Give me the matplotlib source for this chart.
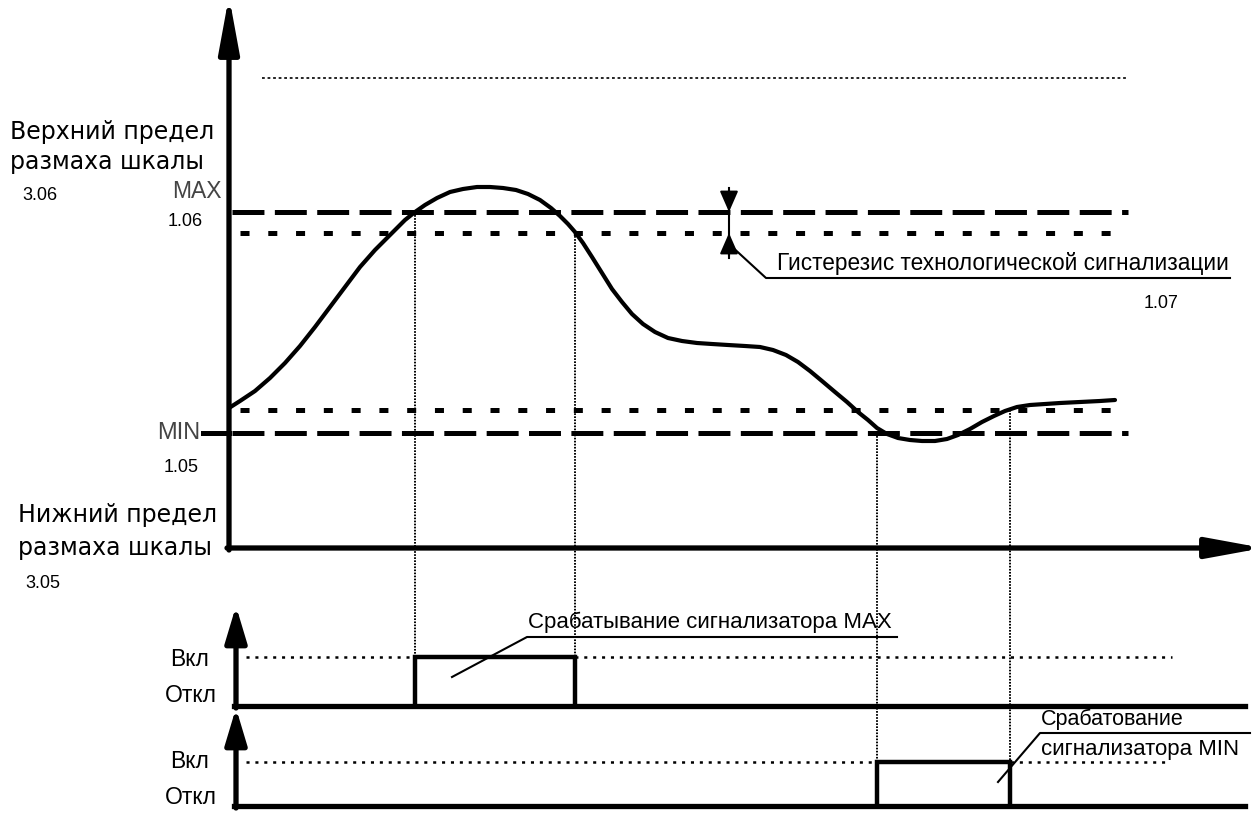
import matplotlib
matplotlib.use("Agg")
import matplotlib.pyplot as plt

plt.rcParams['lines.scale_dashes'] = False
plt.rcParams['font.family'] = ['Liberation Sans', 'DejaVu Sans']

# ---- data (diagram units: x = time, y = screen-like level, top = 0) ----
curve_x = [229, 240, 255, 270, 285, 300, 315, 330, 345, 360, 375, 390, 405, 415, 425,
           437, 450, 463, 477, 490, 503, 516, 528, 540, 551, 560, 568, 575, 583, 592,
           602, 612, 622, 632, 643, 655, 668, 682, 697, 712, 728, 745, 760, 773, 786,
           798, 810, 822, 835, 847, 858, 868, 877, 887, 898, 910, 922, 935, 947, 958,
           970, 982, 994, 1005, 1017, 1030, 1045, 1060, 1080, 1100, 1115]
curve_y = [408, 401, 391, 378, 363, 346, 327, 307, 287, 267, 250, 235, 220, 212, 205,
           198, 192, 189, 187, 187, 188, 190, 194, 200, 208, 216, 224, 232, 243, 257,
           273, 289, 302, 314, 324, 332, 338, 341, 343, 344, 345, 346, 347, 350, 355,
           362, 371, 381, 392, 402, 412, 420, 428, 434, 438, 440, 441, 441, 439, 435,
           429, 422, 416, 411, 407, 405, 404, 403, 402, 401, 400]

level_top = 78
level_max = 212
level_max_hyst = 233
level_min_hyst = 410
level_min = 433
axis_bottom = 548

max_on, max_off = 415, 575
min_on, min_off = 877, 1010

p1_base, p1_on = 706, 657
p2_base, p2_on = 806, 762

fig = plt.figure(figsize=(12.53, 8.14), dpi=100)
ax = fig.add_axes([0, 0, 1, 1])
ax.set_xlim(0, 1253)
ax.set_ylim(814, 0)
ax.axis('off')

K = 'black'
LW_AX = 3.8

def arrow(x0, y0, x1, y1, lw=LW_AX, ms=28, hw=0.22, hl=1.2):
    ax.annotate('', xy=(x1, y1), xytext=(x0, y0), annotation_clip=False,
                arrowprops=dict(arrowstyle=f'-|>,head_length={hl},head_width={hw}',
                                lw=lw, color=K, mutation_scale=ms,
                                shrinkA=0, shrinkB=0))

# main axes
arrow(229, axis_bottom + 2, 229, -4)
arrow(227, axis_bottom, 1263, axis_bottom)

# top dotted
ax.plot([262, 1128], [level_top, level_top], color=K, lw=1.2, dashes=(2, 2))
# MAX dashed
ax.plot([232, 1128], [level_max, level_max], color=K, lw=3.6, dashes=(23, 7.5))
# MAX hysteresis
ax.plot([240, 1112], [level_max_hyst, level_max_hyst], color=K, lw=3.6, dashes=(6.5, 13.5))
# MIN hysteresis
ax.plot([240, 1117], [level_min_hyst, level_min_hyst], color=K, lw=3.6, dashes=(6.5, 13.5))
# MIN dashed
ax.plot([232, 1128], [level_min, level_min], color=K, lw=3.6, dashes=(23, 7.5))
ax.plot([203, 229], [level_min, level_min], color=K, lw=3.6)

# curve
ax.plot(curve_x, curve_y, color=K, lw=3.0, solid_joinstyle='round', solid_capstyle='round')

# vertical projection lines
for xv, yv, yb in [(max_on, level_max, p1_base), (max_off, level_max_hyst, p1_base),
                   (min_on, level_min, p2_base), (min_off, level_min_hyst, p2_base)]:
    ax.plot([xv, xv], [yv, yb], color=K, lw=1.4, dashes=(1.2, 1.0))

# hysteresis marker
ax.plot([729, 729], [188, 258], color=K, lw=1.5)
ax.annotate('', xy=(729, level_max), xytext=(729, 190),
            arrowprops=dict(arrowstyle='-|>,head_length=0.8,head_width=0.35', color=K, lw=1.5,
                            mutation_scale=16, shrinkA=0, shrinkB=0))
ax.annotate('', xy=(729, level_max_hyst), xytext=(729, 256),
            arrowprops=dict(arrowstyle='-|>,head_length=0.8,head_width=0.35', color=K, lw=1.5,
                            mutation_scale=16, shrinkA=0, shrinkB=0))
ax.plot([729, 766, 1230], [244, 278, 278], color=K, lw=1.5)
ax.text(1229, 275, 'Гистерезис технологической сигнализации', ha='right', va='bottom',
        fontsize=16.3)
ax.text(1161, 303, '1.07', ha='center', va='center', fontsize=13)

# left labels
BIG = ['DejaVu Sans']
ax.text(10, 132, 'Верхний предел', ha='left', va='center', fontsize=17, family=BIG)
ax.text(10, 162, 'размаха шкалы', ha='left', va='center', fontsize=17, family=BIG)
ax.text(22, 195, '3.06', ha='left', va='center', fontsize=13)
ax.text(222, 191, 'MAX', ha='right', va='center', fontsize=16.5, color='#444444')
ax.text(185, 221, '1.06', ha='center', va='center', fontsize=13)
ax.text(200, 433, 'MIN', ha='right', va='center', fontsize=17, color='#444444')
ax.text(181, 467, '1.05', ha='center', va='center', fontsize=13)
ax.text(18, 515, 'Нижний предел', ha='left', va='center', fontsize=17, family=BIG)
ax.text(18, 548, 'размаха шкалы', ha='left', va='center', fontsize=17, family=BIG)
ax.text(25, 583, '3.05', ha='left', va='center', fontsize=13)

# panel 1
arrow(236, p1_base + 2, 236, 606, ms=22, hw=0.3, hl=1.0)
ax.plot([234, 1245], [p1_base, p1_base], color=K, lw=LW_AX)
ax.plot([246, 1172], [p1_on, p1_on], color=K, lw=1.8, dashes=(2.2, 4.2))
ax.plot([max_on, max_on, max_off, max_off], [p1_base, p1_on, p1_on, p1_base],
        color=K, lw=3.2, solid_joinstyle='miter')
ax.text(170, 660, 'Вкл', ha='left', va='center', fontsize=16.5)
ax.text(165, 696, 'Откл', ha='left', va='center', fontsize=16.5)
ax.plot([452, 527, 897], [677, 637, 637], color=K, lw=1.5)
ax.text(528, 633, 'Срабатывание сигнализатора MAX', ha='left', va='bottom',
        fontsize=16)

# panel 2
arrow(236, p2_base + 2, 236, 708, ms=22, hw=0.3, hl=1.0)
ax.plot([234, 1245], [p2_base, p2_base], color=K, lw=LW_AX)
ax.plot([246, 1167], [p2_on, p2_on], color=K, lw=1.8, dashes=(2.2, 4.2))
ax.plot([min_on, min_on, min_off, min_off], [p2_base, p2_on, p2_on, p2_base],
        color=K, lw=3.2, solid_joinstyle='miter')
ax.text(170, 762, 'Вкл', ha='left', va='center', fontsize=16.5)
ax.text(165, 797, 'Откл', ha='left', va='center', fontsize=16.5)
ax.plot([998, 1040, 1250], [782, 733, 733], color=K, lw=1.5)
ax.text(1041, 730, 'Срабатование', ha='left', va='bottom', fontsize=15.5)
ax.text(1041, 750, 'сигнализатора MIN', ha='left', va='center', fontsize=16)

fig.savefig('out.png', dpi=100)
